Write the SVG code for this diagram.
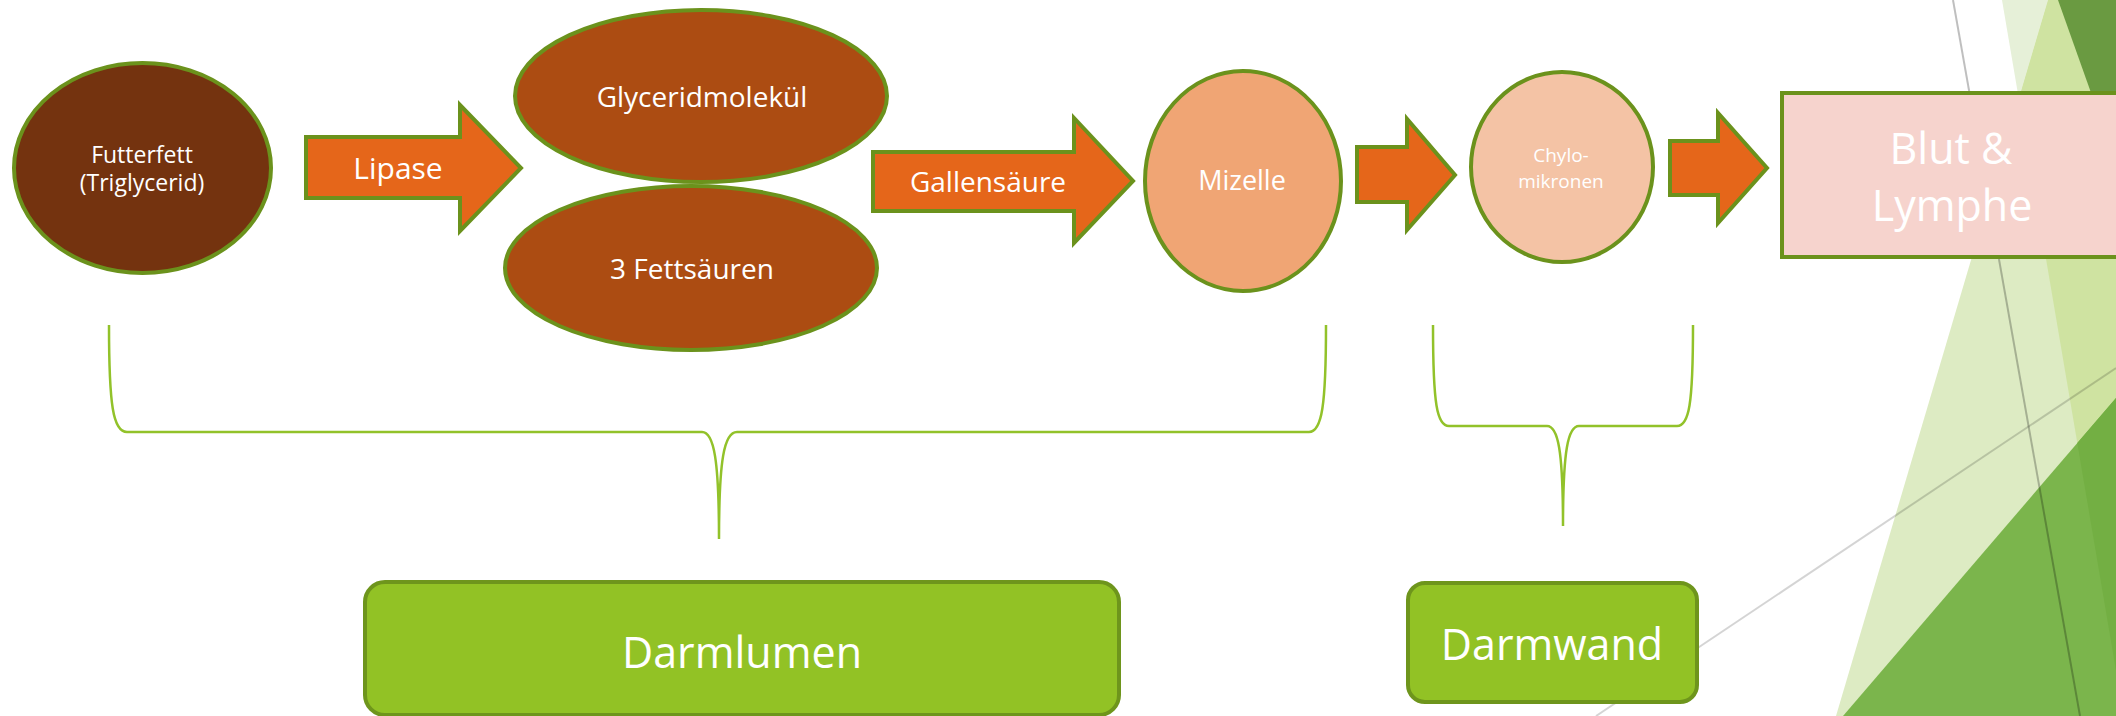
<svg xmlns="http://www.w3.org/2000/svg" width="2116" height="716" viewBox="0 0 2116 716">
  <style>
    .lbl { font-family: "Open Sans", "DejaVu Sans", sans-serif; fill: #FFFFFF; text-anchor: middle; }
    .node-stroke { stroke: #6B921C; stroke-width: 4; }
    .arrow { fill: #E5661A; stroke: #6B921C; stroke-width: 4; stroke-linejoin: miter; }
    .brace { fill: none; stroke: #92C22A; stroke-width: 2.5; stroke-linecap: butt; }
    .box { fill: #92C225; stroke: #6E951C; stroke-width: 4; }
    .deco-line { fill: none; stroke: #000000; stroke-width: 2; }
  </style>

  <rect width="2116" height="716" fill="#FFFFFF"/>

  <!-- facet decoration on the right edge -->
  <g id="decoration">
    <polygon points="2048,0 2116,0 2116,716 1836,716" fill="#DDEBC3"/>
    <polygon points="2002,0 2048,0 2018.8,98.7" fill="#E6F0D8"/>
    <polygon points="2048,0 2116,0 2116,670.6 2018.8,98.7" fill="#CFE3A1"/>
    <polygon points="2058,0 2116,0 2116,163" fill="#6A9A41"/>
    <polygon points="1843,716 2116,398 2116,716" fill="#7BB54C"/>
    <polygon points="2077.3,443 2116,398 2116,670.6" fill="#73AF43"/>
    <line class="deco-line" x1="1953" y1="0" x2="2080" y2="716" stroke-opacity="0.25"/>
    <line class="deco-line" x1="1596" y1="716" x2="2116" y2="368" stroke-opacity="0.17"/>
  </g>

  <!-- process arrows and braces -->
  <g id="connectors">
    <g id="arrow-lipase">
      <polygon class="arrow" points="306,137 460,137 460,105 521,168 460,231 460,198 306,198"/>
      <text class="lbl" x="398" y="179" font-size="30">Lipase</text>
    </g>
    <g id="arrow-gallensaeure">
      <polygon class="arrow" points="873,152 1074,152 1074,118 1133,181 1074,243 1074,211 873,211"/>
      <text class="lbl" x="988" y="192" font-size="28">Gallensäure</text>
    </g>
    <polygon id="arrow-3" class="arrow" points="1357,147 1407,147 1407,119 1455,175 1407,230 1407,202 1357,202"/>
    <polygon id="arrow-4" class="arrow" points="1670,141 1718,141 1718,113 1767,168 1718,223 1718,195 1670,195"/>

    <path id="brace-lumen" class="brace" d="M109,325 C109,405 113,432 127,432 L702,432 C714,432 719,460 719,539 C719,460 724,432 737,432 L1309,432 C1322,432 1326,405 1326,325"/>
    <path id="brace-wand" class="brace" d="M1433,325 C1433,405 1437,426 1449,426 L1547,426 C1558,426 1563,450 1563,526 C1563,450 1568,426 1579,426 L1677,426 C1689,426 1693,405 1693,325"/>
  </g>

  <g id="futterfett">
    <ellipse class="node-stroke" cx="142.5" cy="168" rx="128.5" ry="105" fill="#74330F"/>
    <text class="lbl" x="142" y="163" font-size="23">Futterfett</text>
    <text class="lbl" x="142" y="191" font-size="23">(Triglycerid)</text>
  </g>

  <g id="glyceridmolekuel">
    <ellipse class="node-stroke" cx="701" cy="96" rx="186" ry="86" fill="#AC4C12"/>
    <text class="lbl" x="702" y="107" font-size="28">Glyceridmolekül</text>
  </g>

  <g id="fettsaeuren">
    <ellipse class="node-stroke" cx="691" cy="268" rx="186" ry="82" fill="#AC4C12"/>
    <text class="lbl" x="692" y="279" font-size="28">3 Fettsäuren</text>
  </g>

  <g id="mizelle">
    <ellipse class="node-stroke" cx="1243" cy="181" rx="98" ry="110" fill="#F0A574"/>
    <text class="lbl" x="1242" y="190" font-size="27">Mizelle</text>
  </g>

  <g id="chylomikronen">
    <ellipse class="node-stroke" cx="1562" cy="167" rx="91" ry="95" fill="#F4C3A5"/>
    <text class="lbl" x="1561" y="162" font-size="19">Chylo-</text>
    <text class="lbl" x="1561" y="188" font-size="19">mikronen</text>
  </g>

  <g id="blut-lymphe">
    <rect class="node-stroke" x="1782" y="93" width="340" height="164" fill="#F6D3CD"/>
    <text class="lbl" x="1951" y="164" font-size="43">Blut &amp;</text>
    <text class="lbl" x="1952" y="221" font-size="43">Lymphe</text>
  </g>

  <g id="darmlumen">
    <rect class="box" x="365" y="582" width="754" height="133" rx="20" ry="20"/>
    <text class="lbl" x="742" y="668" font-size="43">Darmlumen</text>
  </g>

  <g id="darmwand">
    <rect class="box" x="1408" y="583" width="289" height="119" rx="17" ry="17"/>
    <text class="lbl" x="1552" y="660" font-size="43">Darmwand</text>
  </g>
</svg>
